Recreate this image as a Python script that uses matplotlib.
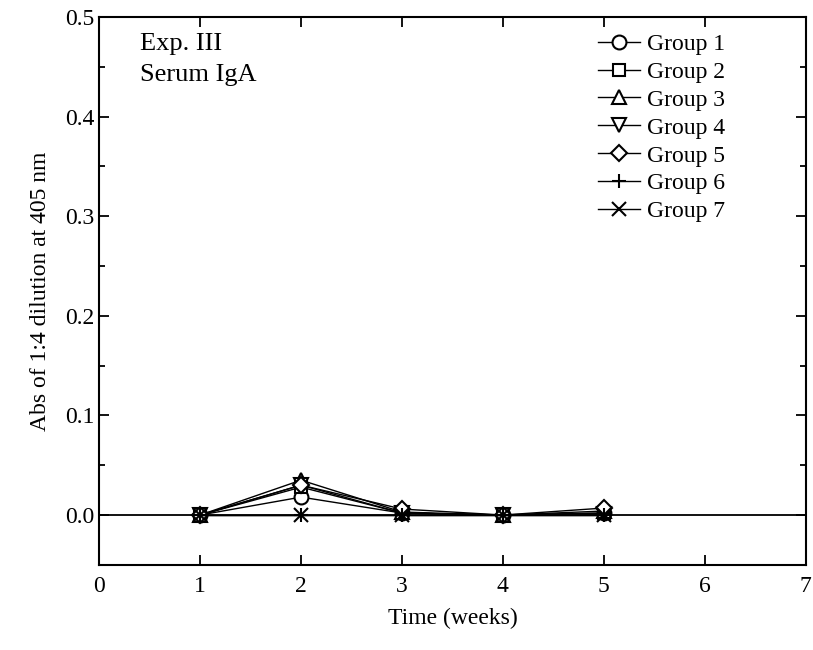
import matplotlib.pyplot as plt
from matplotlib.ticker import MultipleLocator

plt.rcParams['font.family'] = ['Liberation Serif', 'DejaVu Serif']

# Data
weeks = [1, 2, 3, 4, 5]
group_names = ["Group 1", "Group 2", "Group 3", "Group 4", "Group 5", "Group 6", "Group 7"]
group_vals = [
    [0.0, 0.018, 0.002, 0.0, 0.002],
    [0.0, 0.028, 0.002, 0.0, 0.002],
    [0.0, 0.035, 0.003, 0.0, 0.004],
    [0.0, 0.030, 0.002, 0.0, 0.001],
    [0.0, 0.030, 0.006, 0.0, 0.007],
    [0.0, 0.0, 0.0, 0.0, 0.0],
    [0.0, 0.0, 0.0, 0.0, 0.0],
]
MARKERS = ['o', 's', '^', 'v', 'D', '+', 'x']
SIZES   = [10, 9, 10, 10, 8, 10, 10]

fig = plt.figure(figsize=(8.13, 6.5), dpi=100)
ax = fig.add_axes([0.122, 0.131, 0.869, 0.843])

ax.axhline(0, color='black', linewidth=1.3, zorder=1)

for name, vals, mk, ms in zip(group_names, group_vals, MARKERS, SIZES):
    ax.plot(weeks, vals, marker=mk, markersize=ms, color='black', linewidth=1.0,
            markerfacecolor='white', markeredgecolor='black', markeredgewidth=1.5,
            label=name, zorder=3)

ax.set_xlim(0, 7)
ax.set_ylim(-0.05, 0.5)
ax.xaxis.set_major_locator(MultipleLocator(1))
ax.yaxis.set_major_locator(MultipleLocator(0.1))
ax.yaxis.set_minor_locator(MultipleLocator(0.05))
ax.yaxis.set_major_formatter(plt.FuncFormatter(lambda v, p: f"{v:.1f}"))
ax.tick_params(which='both', direction='in', top=True, right=True, labelsize=17, width=1.3)
ax.tick_params(which='major', length=7)
ax.tick_params(which='minor', length=4)
ax.tick_params(axis='x', pad=8)
for s in ax.spines.values():
    s.set_linewidth(1.5)

ax.set_xlabel("Time (weeks)", fontsize=17, labelpad=8)
ax.set_ylabel("Abs of 1:4 dilution at 405 nm", fontsize=17, labelpad=10)

ax.text(0.058, 0.97, "Exp. III\nSerum IgA", transform=ax.transAxes, fontsize=19,
        va='top', ha='left', linespacing=1.5)

ax.legend(loc='upper right', bbox_to_anchor=(0.91, 1.0), frameon=False, fontsize=17,
          handlelength=1.8, handletextpad=0.3, labelspacing=0.27, borderaxespad=0.3)

fig.savefig("out.png", dpi=100)
